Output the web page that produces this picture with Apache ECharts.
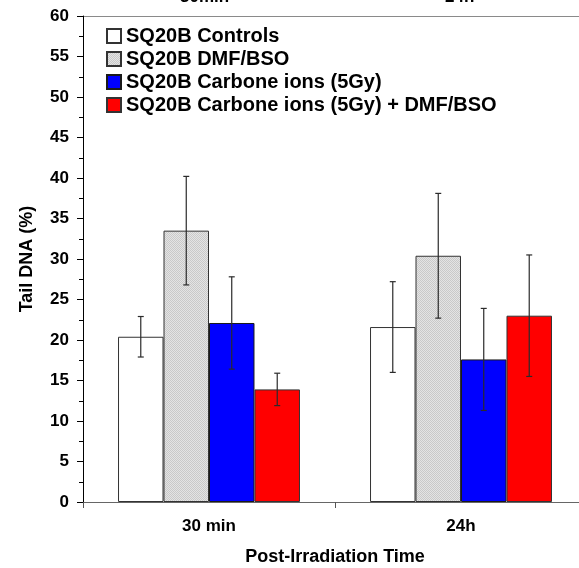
<!DOCTYPE html>
<html>
<head>
<meta charset="utf-8">
<script src="https://cdn.jsdelivr.net/npm/echarts@6/dist/echarts.min.js"></script>
<style>
  html, body { margin: 0; padding: 0; background: #fff; }
  #chart { width: 579px; height: 568px; }
</style>
</head>
<body>
<div id="chart"></div>
<script>
// Tail DNA (%) by post-irradiation time, mean ± SD
const categories = ['30 min', '24h'];
const topLabels = ['30min', '24h'];
const seriesNames = [
  'SQ20B Controls',
  'SQ20B DMF/BSO',
  'SQ20B Carbone ions (5Gy)',
  'SQ20B Carbone ions (5Gy) + DMF/BSO'
];
const controls = [20.4, 21.6];
const dmfBso = [33.5, 30.4];
const carbone = [22.1, 17.6];
const carboneDmf = [13.9, 23.0];
const controlsErr = [2.5, 5.6];
const dmfBsoErr = [6.7, 7.7];
const carboneErr = [5.7, 6.3];
const carboneDmfErr = [2.0, 7.5];

const values = [controls, dmfBso, carbone, carboneDmf];
const errors = [controlsErr, dmfBsoErr, carboneErr, carboneDmfErr];

// fine dotted grey fill for the DMF/BSO bars
function dotPattern() {
  const c = document.createElement('canvas');
  c.width = 2; c.height = 2;
  const g = c.getContext('2d');
  g.fillStyle = '#e4e4e4'; g.fillRect(0, 0, 2, 2);
  g.fillStyle = '#c9c9c9'; g.fillRect(0, 0, 1, 1); g.fillRect(1, 1, 1, 1);
  return c;
}

const fills = ['#ffffff', { image: dotPattern(), repeat: 'repeat' }, '#0000ff', '#ff0000'];
const borders = ['#333333', '#333333', '#1a1a1a', '#333333'];

const chart = echarts.init(document.getElementById('chart'), null, { renderer: 'canvas' });

const barCount = seriesNames.length;
const gapRatio = 0.278;
const font = 'Liberation Sans, Arial, sans-serif';

const barSeries = seriesNames.map((name, i) => ({
  name,
  type: 'bar',
  data: values[i],
  barGap: '0%',
  barCategoryGap: (gapRatio * 100) + '%',
  itemStyle: { color: fills[i], borderColor: borders[i], borderWidth: 1 },
  z: 2
}));

// error bars drawn on top of each bar, offset to the bar's slot in the group
const errSeries = seriesNames.map((name, i) => ({
  type: 'custom',
  name: name + ' err',
  z: 5,
  data: values[i].map((v, k) => [k, v, errors[i][k]]),
  renderItem(params, api) {
    const k = api.value(0);
    const v = api.value(1);
    const e = api.value(2);
    const catW = api.size([1, 0])[0];
    const barW = catW * (1 - gapRatio) / barCount;
    const center = api.coord([k, v]);
    const x = center[0] - barW * barCount / 2 + barW * (i + 0.5);
    const top = api.coord([k, v + e])[1];
    const bot = api.coord([k, v - e])[1];
    const cap = 3;
    const style = { stroke: '#2b2b2b', lineWidth: 1.2 };
    return {
      type: 'group',
      children: [
        { type: 'line', shape: { x1: x, y1: top, x2: x, y2: bot }, style },
        { type: 'line', shape: { x1: x - cap, y1: top, x2: x + cap, y2: top }, style },
        { type: 'line', shape: { x1: x - cap, y1: bot, x2: x + cap, y2: bot }, style }
      ]
    };
  }
}));

chart.setOption({
  animation: false,
  backgroundColor: '#ffffff',
  textStyle: { fontFamily: font },
  grid: {
    left: 83, right: -8, top: 16, bottom: 66,
    outerBoundsMode: 'none', containLabel: false,
    show: true, borderColor: 'transparent'
  },
  legend: {
    data: seriesNames,
    orient: 'vertical',
    left: 106,
    top: 26,
    padding: 0,
    itemWidth: 14,
    itemHeight: 14,
    itemGap: 3,
    icon: 'rect',
    textStyle: { fontFamily: font, fontWeight: 'bold', fontSize: 20, color: '#000', lineHeight: 20 },
    selectedMode: false
  },
  xAxis: [{
    type: 'category',
    data: categories,
    axisLine: { lineStyle: { color: '#666666', width: 1 } },
    axisTick: { show: true, length: 6, lineStyle: { color: '#555555' } },
    axisLabel: { fontFamily: font, fontWeight: 'bold', fontSize: 17, color: '#000', margin: 16 },
    name: 'Post-Irradiation Time',
    nameLocation: 'middle',
    nameGap: 46,
    nameTextStyle: { fontFamily: font, fontWeight: 'bold', fontSize: 18, color: '#000' }
  }],
  yAxis: [{
    type: 'value',
    min: 0,
    max: 60,
    interval: 5,
    axisLine: { show: true, lineStyle: { color: '#000000', width: 1 } },
    axisTick: { show: true, length: 6, lineStyle: { color: '#000' } },
    minorTick: { show: true, splitNumber: 2, length: 4, lineStyle: { color: '#000' } },
    splitLine: { show: false },
    axisLabel: { fontFamily: font, fontWeight: 'bold', fontSize: 17, color: '#000', margin: 14 },
    name: 'Tail DNA (%)',
    nameLocation: 'middle',
    nameGap: 47,
    nameRotate: 90,
    nameTextStyle: { fontFamily: font, fontWeight: 'bold', fontSize: 18, color: '#000' }
  }],
  graphic: [
    // frame line along the top of the plot area
    { type: 'line', shape: { x1: 83, y1: 16.5, x2: 579, y2: 16.5 }, style: { stroke: '#8a8a8a', lineWidth: 1 }, silent: true },
    // small overhangs where the two axes cross
    { type: 'line', shape: { x1: 83.5, y1: 502, x2: 83.5, y2: 508 }, style: { stroke: '#000', lineWidth: 1 }, silent: true },
    { type: 'line', shape: { x1: 77, y1: 502.5, x2: 83, y2: 502.5 }, style: { stroke: '#666', lineWidth: 1 }, silent: true },
    { type: 'text', left: 180, top: -11, style: { text: topLabels[0], font: 'bold 17px ' + font, fill: '#000' } },
    { type: 'text', left: 445, top: -11, style: { text: topLabels[1], font: 'bold 17px ' + font, fill: '#000' } }
  ],
  series: [...barSeries, ...errSeries]
});
</script>
</body>
</html>
